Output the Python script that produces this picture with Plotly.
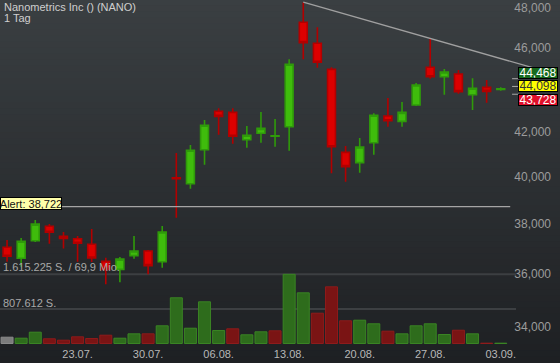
import math
import datetime as dt
import plotly.graph_objects as go

# ---------------- data ----------------
dates = ["2018-07-16", "2018-07-17", "2018-07-18", "2018-07-19", "2018-07-20",
         "2018-07-23", "2018-07-24", "2018-07-25", "2018-07-26", "2018-07-27",
         "2018-07-30", "2018-07-31", "2018-08-01", "2018-08-02", "2018-08-03",
         "2018-08-06", "2018-08-07", "2018-08-08", "2018-08-09", "2018-08-10",
         "2018-08-13", "2018-08-14", "2018-08-15", "2018-08-16", "2018-08-17",
         "2018-08-20", "2018-08-21", "2018-08-22", "2018-08-23", "2018-08-24",
         "2018-08-27", "2018-08-28", "2018-08-29", "2018-08-30", "2018-08-31",
         "2018-09-03"]

opens = [37060, 36620, 37320, 37910, 37500, 37405, 37180, 36500, 36185, 36725,
         36910, 36485, 39950, 39695, 41180, 42930, 42880, 41630, 41920, 41785,
         42220, 47265, 46205, 44920, 41065, 40610, 41495, 42710, 42465, 43220,
         45020, 44565, 44695, 43705, 44055, 43960]
highs = [37350, 37430, 38170, 38000, 37675, 37515, 37800, 36645, 36670, 37515,
         36950, 37920, 41035, 41390, 42525, 43065, 43065, 42250, 42895, 42570,
         45410, 48300, 47010, 45020, 41350, 41705, 42835, 43550, 43360, 44260,
         46455, 44935, 44890, 44485, 44405, 44057]
lows = [36485, 36290, 37270, 37200, 37015, 36485, 36475, 35605, 35680, 36605,
        35990, 36250, 38260, 39480, 40520, 41855, 41450, 41270, 41495, 41315,
        41135, 45410, 45000, 40145, 39780, 40170, 40960, 42220, 42220, 43175,
        44470, 43705, 43755, 42990, 43330, 43895]
closes = [36700, 37300, 38000, 37665, 37420, 37220, 36630, 36185, 36590, 36910,
          36330, 37675, 39915, 41155, 42285, 42695, 41785, 41830, 42145, 41810,
          45165, 46235, 45265, 41315, 40435, 41300, 42745, 42495, 42880, 44165,
          44565, 44790, 43850, 44010, 43865, 43990]
volumes = [147000, 124000, 264000, 110000, 77000, 156000, 117000, 194000, 124000, 226000,
           226000, 413000, 1067000, 357000, 973000, 303000, 343000, 203000, 273000, 296000,
           1615225, 1183000, 707000, 1323000, 530000, 544000, 460000, 287000, 226000, 413000,
           460000, 210000, 310000, 226000, 8000, 8000]

x_tick_labels = ["23.07.", "30.07.", "06.08.", "13.08.", "20.08.", "27.08.", "03.09."]
y_ticks = [34000, 36000, 38000, 40000, 42000, 44000, 46000, 48000]

alert_level = 38722
quote_ask, quote_last, quote_bid = 44468, 44098, 43728
trend_start = (21, 48300)
trend_end = (39.0, 44660)

vol_max_label = "1.615.225 S. / 69,9 Mio."
vol_half_label = "807.612 S."
vol_max = 1615225
vol_half = 807612

title_line1 = "Nanometrics Inc () (NANO)"
title_line2 = "1 Tag"

# ---------------- derived ----------------
W, H = 560, 363
x_idx = list(range(len(dates)))
fmt = [dt.date.fromisoformat(d).strftime("%d.%m.") for d in dates]
x_tick_vals = [fmt.index(t) for t in x_tick_labels]

# tick labels that sit under the quote boxes are hidden (covered in the original)
shown_y_ticks = [v for v in y_ticks if not (quote_bid * 0.99 < v < quote_ask * 1.01)]

GREEN_F, GREEN_L = "#3fbc0c", "#2f9a0a"
RED_F, RED_L = "#dd0000", "#b20000"

vol_fill, vol_line = [], []
for i, c in enumerate(closes):
    if i == 0:
        vol_fill.append("#7c7c7c"); vol_line.append("#8a8a8a")
    elif c >= closes[i - 1]:
        vol_fill.append("#2e6c1c"); vol_line.append("#3a8424")
    else:
        vol_fill.append("#7a1414"); vol_line.append("#8e1b1b")

FONT = "Liberation Sans, Arial, sans-serif"

fig = go.Figure()

# background gradient
n_bands = 60
top_c = (58, 63, 66)
bot_c = (30, 32, 35)
shapes = []
for k in range(n_bands):
    t = k / (n_bands - 1)
    col = tuple(int(round(top_c[j] + (bot_c[j] - top_c[j]) * t)) for j in range(3))
    shapes.append(dict(type="rect", xref="paper", yref="paper", x0=0, x1=1,
                       y0=1 - (k + 1) / n_bands, y1=1 - k / n_bands + 0.002,
                       fillcolor="rgb(%d,%d,%d)" % col, line=dict(width=0), layer="below"))

# volume reference lines
for v in (vol_max, vol_half):
    shapes.append(dict(type="line", xref="paper", yref="y2", x0=0, x1=516 / W, y0=v, y1=v,
                       line=dict(color="rgb(60,63,66)", width=2), layer="below"))

# volume bars
fig.add_trace(go.Bar(x=x_idx, y=volumes, yaxis="y2", width=0.85,
                     marker=dict(color=vol_fill, line=dict(color=vol_line, width=1)),
                     showlegend=False, hoverinfo="skip"))

# candles
fig.add_trace(go.Candlestick(
    x=x_idx, open=opens, high=highs, low=lows, close=closes,
    increasing=dict(line=dict(color=GREEN_L, width=1.6), fillcolor=GREEN_F),
    decreasing=dict(line=dict(color=RED_L, width=1.6), fillcolor=RED_F),
    whiskerwidth=0, showlegend=False, hoverinfo="skip"))

# alert line
fig.add_trace(go.Scatter(x=[3.9, 35.67], y=[alert_level, alert_level], mode="lines",
                         line=dict(color="rgb(165,165,165)", width=1.3),
                         showlegend=False, hoverinfo="skip"))

# trend line
fig.add_trace(go.Scatter(x=[trend_start[0], trend_end[0]], y=[trend_start[1], trend_end[1]],
                         mode="lines", line=dict(color="rgb(160,160,160)", width=1.3),
                         showlegend=False, hoverinfo="skip"))

# small tick marks next to quote labels
fig.add_trace(go.Scatter(x=[36.05] * 3, y=[quote_ask, quote_last, quote_bid], mode="markers",
                         marker=dict(symbol="line-ew", size=5,
                                     line=dict(color="rgb(170,170,170)", width=1)),
                         showlegend=False, hoverinfo="skip"))

annotations = [
    dict(text=title_line1, xref="paper", yref="paper", x=2 / W, y=1 - 7 / H,
         xanchor="left", yanchor="middle", showarrow=False,
         font=dict(family=FONT, size=11, color="#cfcfcf")),
    dict(text=title_line2, xref="paper", yref="paper", x=2 / W, y=1 - 18 / H,
         xanchor="left", yanchor="middle", showarrow=False,
         font=dict(family=FONT, size=11, color="#cfcfcf")),
    dict(text="Alert: " + f"{alert_level:,}", xref="paper", yref="y", x=0,
         y=math.log10(alert_level), yshift=3, xanchor="left", yanchor="middle",
         showarrow=False, bgcolor="#ffffaa", bordercolor="#000000", borderwidth=1,
         borderpad=0, width=60, height=11,
         font=dict(family=FONT, size=11, color="#111111")),
    dict(text=vol_max_label, xref="paper", yref="y2", x=1 / W, y=vol_max, yshift=7,
         xanchor="left", yanchor="middle", showarrow=False,
         font=dict(family=FONT, size=11, color="#a8a8a8")),
    dict(text=vol_half_label, xref="paper", yref="y2", x=1 / W, y=vol_half, yshift=6,
         xanchor="left", yanchor="middle", showarrow=False,
         font=dict(family=FONT, size=11, color="#a8a8a8")),
]
for val, shift, bg, fc in ((quote_ask, 6, "#176a1e", "#ffffff"),
                           (quote_last, 0, "#ffff00", "#333333"),
                           (quote_bid, -6, "#e0102a", "#ffffff")):
    annotations.append(dict(text=f"{val:,}", xref="paper", yref="y", x=537.5 / W,
                            y=math.log10(val), yshift=shift, xanchor="center", yanchor="middle",
                            showarrow=False, bgcolor=bg, bordercolor="#000000", borderwidth=1,
                            borderpad=0, width=38, height=10,
                            font=dict(family=FONT, size=12, color=fc)))

fig.update_layout(
    width=W, height=H, margin=dict(l=0, r=0, t=0, b=0),
    paper_bgcolor="rgb(30,32,35)", plot_bgcolor="rgba(0,0,0,0)",
    boxgap=0.2, bargap=0.15,
    shapes=shapes, annotations=annotations,
    font=dict(family=FONT, size=11, color="#aaaaaa"),
    xaxis=dict(range=[-0.5, 39.2], showgrid=False, zeroline=False, showline=False,
               tickvals=x_tick_vals, ticktext=x_tick_labels, ticks="",
               ticklabelposition="inside", tickfont=dict(size=11, color="#b8b8b8"),
               rangeslider=dict(visible=False)),
    yaxis=dict(type="log", range=[4.51457, 4.68500], side="right", showgrid=False,
               zeroline=False, showline=False, ticks="",
               tickvals=shown_y_ticks, ticktext=[f"{v:,}" for v in shown_y_ticks],
               ticklabelposition="inside", ticklabelstandoff=6,
               tickfont=dict(size=12, color="#9c9c9c")),
    yaxis2=dict(overlaying="y", range=[-455150, 8017700], visible=False, side="right"),
)

fig.write_html(
    "out.html",
    config={"displayModeBar": False, "staticPlot": True},
    post_script="document.body.style.margin='0';document.body.style.overflow='hidden';"
                "document.body.style.background='rgb(30,32,35)';",
)
